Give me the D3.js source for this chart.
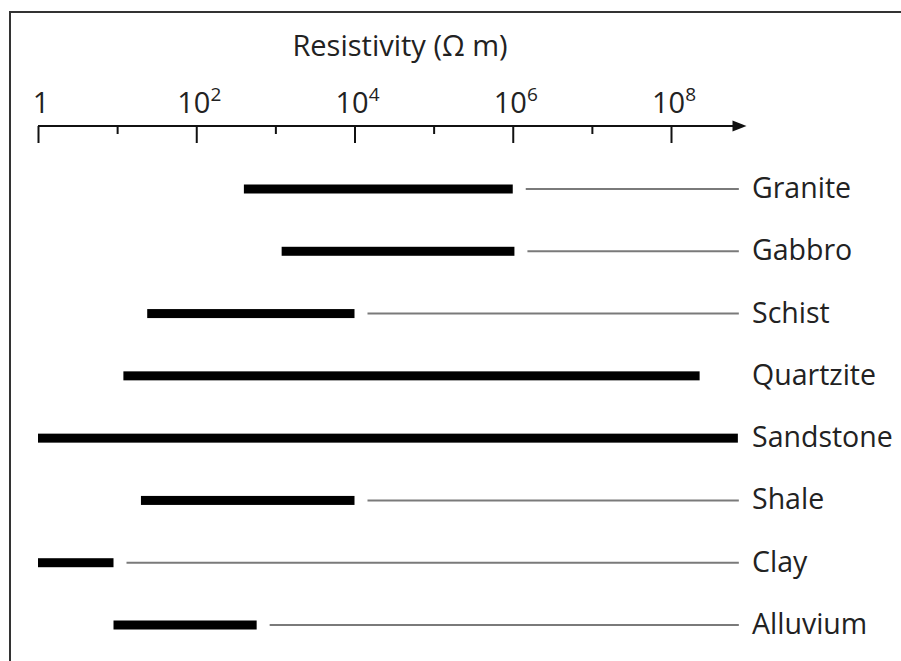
<!DOCTYPE html>
<html>
<head>
<meta charset="utf-8">
<script src="https://cdn.jsdelivr.net/npm/d3@7"></script>
<style>
  body { margin: 0; background: #fff; }
  text { font-family: "Open Sans", "Noto Sans", sans-serif; fill: #222; }
</style>
</head>
<body>
<svg width="901" height="661"></svg>
<script>
// rock types, top to bottom
var rocks = ["Granite", "Gabbro", "Schist", "Quartzite", "Sandstone", "Shale", "Clay", "Alluvium"];
// typical resistivity range (ohm m), thick bar
var lowVals  = [400, 1200, 24, 12, 1, 20, 1, 9];
var highVals = [1e6, 1.05e6, 1e4, 2.3e8, 7e8, 1e4, 9, 580];
// rows whose range continues to high values (thin line)
var extended = [true, true, true, false, false, true, true, true];
var thinEnd = 7.2e8;
var axisEnd = 9e8;
var majorTicks = [1, 1e2, 1e4, 1e6, 1e8];
var minorTicks = [1e1, 1e3, 1e5, 1e7];
var tickLabels = [["1", ""], ["10", "2"], ["10", "4"], ["10", "6"], ["10", "8"]];

var svg = d3.select("svg");

// frame (cropped box)
svg.append("rect")
	.attr("x", 10).attr("y", 12)
	.attr("width", 920).attr("height", 700)
	.attr("fill", "none")
	.attr("stroke", "#333")
	.attr("stroke-width", 2);

var x = d3.scaleLog().domain([1, 1e8]).range([38, 671]);
var y = d3.scalePoint().domain(rocks).range([189, 625]);
var axisY = 126;

// axis line with arrow
svg.append("line")
	.attr("x1", x(1)).attr("x2", x(axisEnd) - 8)
	.attr("y1", axisY).attr("y2", axisY)
	.attr("stroke", "#111").attr("stroke-width", 2);
var tip = x(axisEnd);
svg.append("path")
	.attr("d", "M" + tip + "," + axisY + "L" + (tip - 14) + "," + (axisY - 5.5) + "L" + (tip - 14) + "," + (axisY + 5.5) + "Z")
	.attr("fill", "#111");

var major = d3.axisBottom(x).tickValues(majorTicks).tickSize(17).tickFormat("");
var minor = d3.axisBottom(x).tickValues(minorTicks).tickSize(8).tickFormat("");
[major, minor].forEach(function(ax) {
	var g = svg.append("g").attr("transform", "translate(0," + axisY + ")").call(ax);
	g.select(".domain").remove();
	g.selectAll(".tick line").attr("stroke", "#111").attr("stroke-width", 2);
});

// tick labels above the axis
var lab = svg.append("g").selectAll("text")
	.data(majorTicks)
	.enter().append("text")
		.attr("x", function(d) { return x(d) + 3; })
		.attr("y", 113)
		.attr("text-anchor", "middle")
		.style("font-size", "29px");
lab.append("tspan").text(function(d, i) { return tickLabels[i][0]; });
lab.append("tspan")
	.attr("dy", -12)
	.style("font-size", "19px")
	.text(function(d, i) { return tickLabels[i][1]; });

svg.append("text")
	.attr("x", 400).attr("y", 56)
	.attr("text-anchor", "middle")
	.style("font-size", "29px")
	.text("Resistivity (\u03A9 m)");

// thin extension lines
svg.append("g").selectAll("line")
	.data(rocks.filter(function(d, i) { return extended[i]; }))
	.enter().append("line")
		.attr("x1", function(d) { return x(highVals[rocks.indexOf(d)]) + 13; })
		.attr("x2", x(thinEnd))
		.attr("y1", function(d) { return y(d); })
		.attr("y2", function(d) { return y(d); })
		.attr("stroke", "#7a7a7a")
		.attr("stroke-width", 2);

// thick range bars
svg.append("g").selectAll("rect")
	.data(rocks)
	.enter().append("rect")
		.attr("x", function(d, i) { return x(lowVals[i]); })
		.attr("width", function(d, i) { return x(highVals[i]) - x(lowVals[i]); })
		.attr("y", function(d) { return y(d) - 4.5; })
		.attr("height", 9)
		.attr("fill", "#000");

// rock names
svg.append("g").selectAll("text")
	.data(rocks)
	.enter().append("text")
		.attr("x", 752)
		.attr("y", function(d) { return y(d) + 9; })
		.style("font-size", "28.5px")
		.text(function(d) { return d; });
</script>
</body>
</html>
